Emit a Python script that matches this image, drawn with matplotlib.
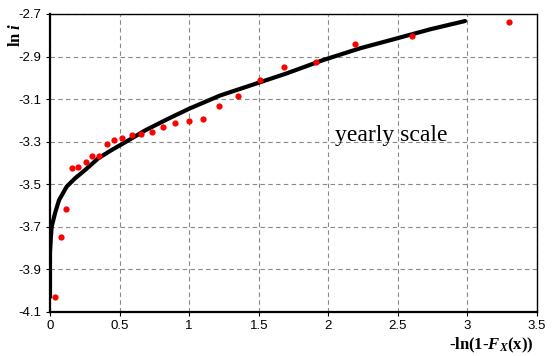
import matplotlib
matplotlib.use("Agg")
import matplotlib.pyplot as plt

plt.rcParams["mathtext.fontset"] = "custom"
plt.rcParams["mathtext.rm"] = "Liberation Serif"
plt.rcParams["mathtext.it"] = "Liberation Serif:italic"
plt.rcParams["mathtext.bf"] = "Liberation Serif:bold"
plt.rcParams["mathtext.bfit"] = "Liberation Serif:italic:bold"

# observed points: -ln(1-F) vs ln i
obs_x = [0.036, 0.079, 0.115, 0.156, 0.204, 0.256, 0.302, 0.352, 0.407, 0.460,
         0.520, 0.592, 0.652, 0.733, 0.812, 0.896, 0.997, 1.102, 1.217, 1.349,
         1.507, 1.685, 1.915, 2.195, 2.600, 3.297]
obs_y = [-4.029, -3.747, -3.616, -3.425, -3.417, -3.397, -3.367, -3.367, -3.311, -3.293,
         -3.281, -3.270, -3.264, -3.254, -3.231, -3.213, -3.201, -3.195, -3.132, -3.087,
         -3.011, -2.947, -2.925, -2.839, -2.803, -2.736]

# fitted curve
fit_x = [0.0, 0.0, 0.006, 0.012, 0.036, 0.065, 0.12, 0.18, 0.252, 0.347, 0.443,
         0.539, 0.689, 0.85, 1.0, 1.222, 1.462, 1.701, 1.965, 2.229, 2.468, 2.732, 2.983]
fit_y = [-4.03, -3.824, -3.75, -3.699, -3.636, -3.574, -3.511, -3.472, -3.433, -3.378, -3.339,
         -3.303, -3.245, -3.192, -3.145, -3.083, -3.031, -2.979, -2.916, -2.861, -2.819, -2.772, -2.733]

x_ticks = [0, 0.5, 1, 1.5, 2, 2.5, 3, 3.5]
y_ticks = [-4.1, -3.9, -3.7, -3.5, -3.3, -3.1, -2.9, -2.7]

fig = plt.figure(figsize=(5.52, 3.56), dpi=100)
ax = fig.add_axes([0.0906, 0.1236, 0.8822, 0.8371])

ax.plot(fit_x, fit_y, color="black", lw=3, solid_capstyle="round",
        solid_joinstyle="round", zorder=3)
ax.plot(obs_x, obs_y, "o", color="#ff0000", ms=4.5, mec="none", zorder=4)

ax.set_xlim(0, 3.5)
ax.set_ylim(-4.1, -2.7)
ax.set_xticks(x_ticks)
ax.set_xticklabels(["0", "0.5", "1", "1.5", "2", "2.5", "3", "3.5"])
ax.set_yticks(y_ticks)
ax.set_yticklabels(["%.1f" % v for v in y_ticks])
for lab in ax.get_xticklabels() + ax.get_yticklabels():
    lab.set_fontfamily("Liberation Sans")
    lab.set_fontsize(9.5)
ax.tick_params(direction="out", length=3, width=0.8, pad=3)

ax.grid(True, color="#888888", ls=(0, (4, 3)), lw=0.8)
ax.set_axisbelow(True)
ax.spines["left"].set_linewidth(1.6)
ax.spines["bottom"].set_linewidth(1.6)
ax.spines["top"].set_linewidth(1.0)
ax.spines["right"].set_linewidth(1.0)

ax.text(2.45, -3.27, "yearly scale", fontfamily="Liberation Serif", fontsize=17,
        ha="center", va="center")

fig.text(15 / 552, 1 - 35 / 356, r"$\mathbf{ln}\ \mathbfit{i}$", rotation=90,
         ha="center", va="center", fontsize=12)
fig.text(533 / 552, 1 - 345 / 356,
         "$\\mathbf{\u2010ln(1\u2010}\\mathbfit{F}_{\\mathbfit{X}}\\mathbf{(x))}$",
         ha="right", va="center", fontsize=12)

fig.savefig("out.png", dpi=100)
